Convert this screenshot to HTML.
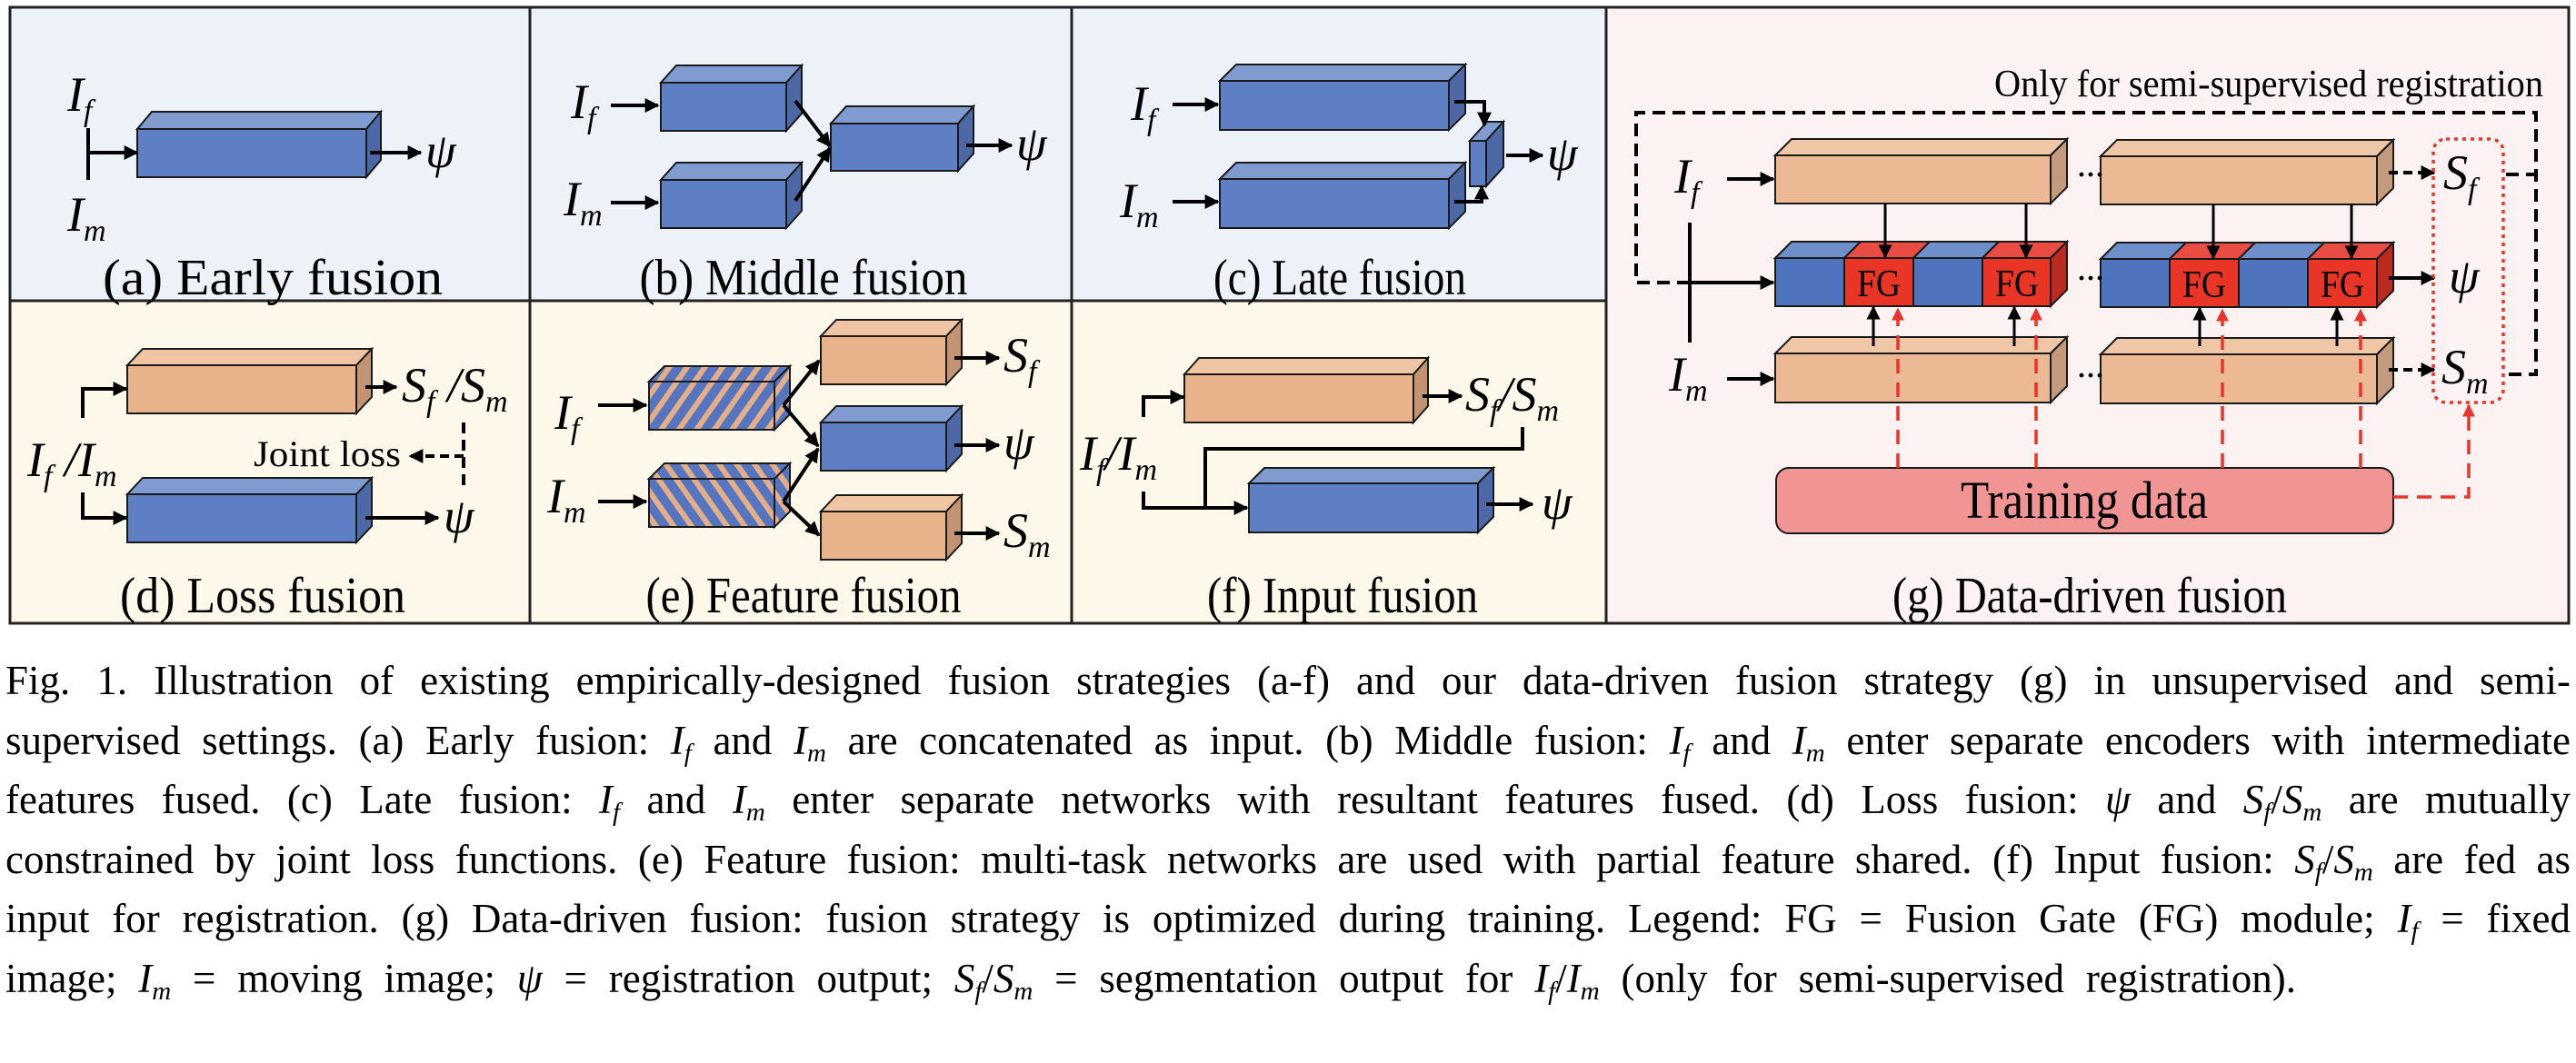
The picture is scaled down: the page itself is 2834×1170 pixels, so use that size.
<!DOCTYPE html>
<html><head><meta charset="utf-8">
<style>
html,body{margin:0;padding:0;background:#fff;}
body{width:2834px;height:1170px;position:relative;overflow:hidden;font-family:"Liberation Serif","DejaVu Serif","Noto Serif CJK SC",serif;}
svg{position:absolute;left:0;top:0;}
.cap{position:absolute;left:6px;width:2822px;font-size:45px;line-height:50px;text-align:justify;text-align-last:justify;white-space:nowrap;color:#000;}
.cap.last{width:2520px;}
.cap i{font-style:italic;}
.cap sub{font-size:29px;vertical-align:-8px;line-height:0;font-style:italic;}
</style></head><body>
<svg width="2834" height="700" viewBox="0 0 2834 700" xmlns="http://www.w3.org/2000/svg" font-family="'Liberation Serif', 'DejaVu Serif', serif">
<defs>
<marker id="ah" viewBox="0 0 10 10" refX="9" refY="5" markerWidth="4" markerHeight="4" orient="auto" markerUnits="strokeWidth"><path d="M0,0 L10,5 L0,10 z" fill="#000"/></marker>
<marker id="ahs" viewBox="0 0 10 10" refX="9" refY="5" markerWidth="5" markerHeight="5" orient="auto" markerUnits="strokeWidth"><path d="M0,0 L10,5 L0,10 z" fill="#000"/></marker>
<marker id="ahr" viewBox="0 0 10 10" refX="9" refY="5" markerWidth="4" markerHeight="4" orient="auto" markerUnits="strokeWidth"><path d="M0,0 L10,5 L0,10 z" fill="#e8342a"/></marker>
<pattern id="h1" width="16" height="16" patternUnits="userSpaceOnUse" patternTransform="rotate(35)"><rect width="16" height="16" fill="#5575c0"/><rect width="6" height="16" fill="#e6ae86"/></pattern>
<pattern id="h2" width="16" height="16" patternUnits="userSpaceOnUse" patternTransform="rotate(-35)"><rect width="16" height="16" fill="#5575c0"/><rect width="6" height="16" fill="#e6ae86"/></pattern>
</defs>
<rect x="11" y="8" width="572" height="323" fill="#edf2f9"/>
<rect x="583" y="8" width="596" height="323" fill="#edf2f9"/>
<rect x="1179" y="8" width="588" height="323" fill="#edf2f9"/>
<rect x="11" y="331" width="1756" height="355" fill="#fdf8ea"/>
<rect x="1767" y="8" width="1059" height="678" fill="#fcf2f1"/>
<g stroke="#222" stroke-width="3" fill="none">
<rect x="11" y="8" width="2815" height="678"/>
<line x1="11" y1="331" x2="1767" y2="331"/>
<line x1="583" y1="8" x2="583" y2="686"/>
<line x1="1179" y1="8" x2="1179" y2="686"/>
<line x1="1767" y1="8" x2="1767" y2="686"/>
</g>

<g stroke="#1a1a1a" stroke-width="2">
<rect x="151" y="142" width="252" height="53" fill="#5f7fc4"/>
<polygon points="151,142 167,123 419,123 403,142" fill="#7f9bd0"/>
<polygon points="403,142 419,123 419,176 403,195" fill="#4c68a6"/>
<rect x="727" y="91" width="138" height="53" fill="#5f7fc4"/>
<polygon points="727,91 744,72 882,72 865,91" fill="#7f9bd0"/>
<polygon points="865,91 882,72 882,125 865,144" fill="#4c68a6"/>
<rect x="727" y="198" width="138" height="53" fill="#5f7fc4"/>
<polygon points="727,198 744,179 882,179 865,198" fill="#7f9bd0"/>
<polygon points="865,198 882,179 882,232 865,251" fill="#4c68a6"/>
<rect x="914" y="136" width="140" height="52" fill="#5f7fc4"/>
<polygon points="914,136 931,117 1071,117 1054,136" fill="#7f9bd0"/>
<polygon points="1054,136 1071,117 1071,169 1054,188" fill="#4c68a6"/>
<rect x="1342" y="89" width="252" height="54" fill="#5f7fc4"/>
<polygon points="1342,89 1360,71 1612,71 1594,89" fill="#7f9bd0"/>
<polygon points="1594,89 1612,71 1612,125 1594,143" fill="#4c68a6"/>
<rect x="1342" y="197" width="252" height="54" fill="#5f7fc4"/>
<polygon points="1342,197 1360,179 1612,179 1594,197" fill="#7f9bd0"/>
<polygon points="1594,197 1612,179 1612,233 1594,251" fill="#4c68a6"/>
<rect x="1617" y="155" width="18" height="50" fill="#5f7fc4"/>
<polygon points="1617,155 1636,134 1654,134 1635,155" fill="#7f9bd0"/>
<polygon points="1635,155 1654,134 1654,184 1635,205" fill="#4c68a6"/>
<rect x="140" y="402" width="252" height="53" fill="#e8b38b"/>
<polygon points="140,402 157,384 409,384 392,402" fill="#efc5a3"/>
<polygon points="392,402 409,384 409,437 392,455" fill="#c29473"/>
<rect x="140" y="544" width="252" height="53" fill="#5f7fc4"/>
<polygon points="140,544 157,526 409,526 392,544" fill="#7f9bd0"/>
<polygon points="392,544 409,526 409,579 392,597" fill="#4c68a6"/>
<rect x="714" y="420" width="138" height="53" fill="url(#h1)"/>
<polygon points="714,420 731,403 869,403 852,420" fill="url(#h1)"/>
<polygon points="852,420 869,403 869,456 852,473" fill="url(#h1)"/>
<rect x="714" y="527" width="138" height="53" fill="url(#h2)"/>
<polygon points="714,527 731,510 869,510 852,527" fill="url(#h2)"/>
<polygon points="852,527 869,510 869,563 852,580" fill="url(#h2)"/>
<rect x="903" y="370" width="138" height="53" fill="#e8b38b"/>
<polygon points="903,370 920,352 1058,352 1041,370" fill="#efc5a3"/>
<polygon points="1041,370 1058,352 1058,405 1041,423" fill="#c29473"/>
<rect x="903" y="465" width="138" height="53" fill="#5f7fc4"/>
<polygon points="903,465 920,447 1058,447 1041,465" fill="#7f9bd0"/>
<polygon points="1041,465 1058,447 1058,500 1041,518" fill="#4c68a6"/>
<rect x="903" y="563" width="138" height="53" fill="#e8b38b"/>
<polygon points="903,563 920,545 1058,545 1041,563" fill="#efc5a3"/>
<polygon points="1041,563 1058,545 1058,598 1041,616" fill="#c29473"/>
<rect x="1303" y="412" width="252" height="53" fill="#e8b38b"/>
<polygon points="1303,412 1319,394 1571,394 1555,412" fill="#efc5a3"/>
<polygon points="1555,412 1571,394 1571,447 1555,465" fill="#c29473"/>
<rect x="1374" y="532" width="252" height="54" fill="#5f7fc4"/>
<polygon points="1374,532 1391,515 1643,515 1626,532" fill="#7f9bd0"/>
<polygon points="1626,532 1643,515 1643,569 1626,586" fill="#4c68a6"/>
<rect x="1953" y="171" width="303" height="53" fill="#ebba95"/>
<polygon points="1953,171 1971,153 2274,153 2256,171" fill="#efc6a6"/>
<polygon points="2256,171 2274,153 2274,206 2256,224" fill="#c39a7b"/>
<rect x="2311" y="172" width="304" height="53" fill="#ebba95"/>
<polygon points="2311,172 2329,154 2633,154 2615,172" fill="#efc6a6"/>
<polygon points="2615,172 2633,154 2633,207 2615,225" fill="#c39a7b"/>
<rect x="1953" y="389" width="303" height="54" fill="#ebba95"/>
<polygon points="1953,389 1971,371 2274,371 2256,389" fill="#efc6a6"/>
<polygon points="2256,389 2274,371 2274,425 2256,443" fill="#c39a7b"/>
<rect x="2311" y="390" width="304" height="54" fill="#ebba95"/>
<polygon points="2311,390 2329,372 2633,372 2615,390" fill="#efc6a6"/>
<polygon points="2615,390 2633,372 2633,426 2615,444" fill="#c39a7b"/>
<rect x="1953" y="284" width="76" height="53" fill="#5073bd"/>
<rect x="2029" y="284" width="76" height="53" fill="#e83526"/>
<rect x="2105" y="284" width="76" height="53" fill="#5073bd"/>
<rect x="2181" y="284" width="75" height="53" fill="#e83526"/>
<polygon points="1953,284 1971,266 2047,266 2029,284" fill="#6f8fcb"/>
<polygon points="2029,284 2047,266 2123,266 2105,284" fill="#e94c42"/>
<polygon points="2105,284 2123,266 2199,266 2181,284" fill="#6f8fcb"/>
<polygon points="2181,284 2199,266 2274,266 2256,284" fill="#e94c42"/>
<polygon points="2256,284 2274,266 2274,319 2256,337" fill="#bb2a1f"/>
<rect x="2311" y="285" width="76" height="53" fill="#5073bd"/>
<rect x="2387" y="285" width="76" height="53" fill="#e83526"/>
<rect x="2463" y="285" width="76" height="53" fill="#5073bd"/>
<rect x="2539" y="285" width="76" height="53" fill="#e83526"/>
<polygon points="2311,285 2329,267 2405,267 2387,285" fill="#6f8fcb"/>
<polygon points="2387,285 2405,267 2481,267 2463,285" fill="#e94c42"/>
<polygon points="2463,285 2481,267 2557,267 2539,285" fill="#6f8fcb"/>
<polygon points="2539,285 2557,267 2633,267 2615,285" fill="#e94c42"/>
<polygon points="2615,285 2633,267 2633,320 2615,338" fill="#bb2a1f"/>
<rect x="1954" y="515" width="679" height="72" rx="14" fill="#f09494"/>
</g>

<g stroke="#000" stroke-width="4" fill="none" marker-end="url(#ah)">
<line x1="97" y1="168" x2="151" y2="168"/>
<line x1="407" y1="168" x2="463" y2="168"/>
<line x1="672" y1="116" x2="724" y2="116"/>
<line x1="672" y1="223" x2="724" y2="223"/>
<line x1="875" y1="111" x2="913" y2="161"/>
<line x1="875" y1="221" x2="913" y2="163"/>
<line x1="1063" y1="160" x2="1113" y2="160"/>
<line x1="1290" y1="115" x2="1340" y2="115"/>
<line x1="1290" y1="222" x2="1340" y2="222"/>
<polyline points="1600,112 1633,112 1633,138"/>
<polyline points="1600,222 1630,222 1630,205"/>
<line x1="1657" y1="171" x2="1697" y2="171"/>
<polyline points="91,460 91,428 139,428"/>
<polyline points="91,542 91,570 139,570"/>
<line x1="402" y1="426" x2="436" y2="426"/>
<line x1="402" y1="570" x2="482" y2="570"/>
<line x1="510" y1="502" x2="451" y2="502" stroke-dasharray="10 6"/>
<line x1="658" y1="446" x2="711" y2="446"/>
<line x1="658" y1="552" x2="711" y2="552"/>
<line x1="862" y1="446" x2="901" y2="397"/>
<line x1="862" y1="446" x2="900" y2="491"/>
<line x1="862" y1="552" x2="900" y2="494"/>
<line x1="862" y1="552" x2="901" y2="589"/>
<line x1="1050" y1="394" x2="1099" y2="394"/>
<line x1="1050" y1="490" x2="1099" y2="490"/>
<line x1="1050" y1="587" x2="1099" y2="587"/>
<polyline points="1258,459 1258,437 1302,437"/>
<polyline points="1258,541 1258,559 1372,559"/>
<polyline points="1675,470 1675,494 1326,494 1326,559" marker-end="none"/>
<line x1="1565" y1="436" x2="1608" y2="436"/>
<line x1="1635" y1="555" x2="1686" y2="555"/>
<line x1="1900" y1="197" x2="1951" y2="197"/>
<line x1="1900" y1="417" x2="1951" y2="417"/>
<line x1="1859" y1="311" x2="1951" y2="311"/>
<line x1="2628" y1="306" x2="2678" y2="306"/>
<line x1="2628" y1="190" x2="2678" y2="190" stroke-dasharray="10 6"/>
<line x1="2628" y1="407" x2="2678" y2="407" stroke-dasharray="10 6"/>
</g>
<g stroke="#000" stroke-width="3" fill="none" marker-end="url(#ahs)">
<line x1="2074" y1="224" x2="2074" y2="283"/>
<line x1="2229" y1="224" x2="2229" y2="283"/>
<line x1="2435" y1="225" x2="2435" y2="284"/>
<line x1="2587" y1="225" x2="2587" y2="284"/>
<line x1="2061" y1="381" x2="2061" y2="338"/>
<line x1="2216" y1="381" x2="2216" y2="338"/>
<line x1="2420" y1="381" x2="2420" y2="339"/>
<line x1="2571" y1="381" x2="2571" y2="339"/>
</g>
<g stroke="#000" stroke-width="4" fill="none">
<line x1="97" y1="141" x2="97" y2="198"/>
<line x1="510" y1="465" x2="510" y2="540" stroke-dasharray="12 7"/>
<line x1="1859" y1="245" x2="1859" y2="377"/>
<polyline points="1859,311 1800,311 1800,124 2790,124 2790,412 2757,412" stroke-dasharray="14 8"/>
<line x1="2757" y1="192" x2="2790" y2="192" stroke-dasharray="14 8"/>
</g>
<g stroke="#e8342a" stroke-width="3.5" fill="none" marker-end="url(#ahr)" stroke-dasharray="16 10">
<line x1="2088" y1="515" x2="2088" y2="340"/>
<line x1="2240" y1="515" x2="2240" y2="340"/>
<line x1="2445" y1="515" x2="2445" y2="341"/>
<line x1="2597" y1="515" x2="2597" y2="341"/>
<polyline points="2633,547 2716,547 2716,446"/>
</g>
<rect x="2677" y="153" width="77" height="290" rx="14" fill="none" stroke="#e8342a" stroke-width="3.5" stroke-dasharray="4 5"/>
<g fill="#000" font-size="30" font-weight="bold"><text x="2285" y="202">···</text><text x="2285" y="316">···</text><text x="2285" y="423">···</text></g>

<g fill="#000" font-style="italic" font-size="54">
<text x="74" y="122">I<tspan font-size="34" dy="11">f</tspan></text>
<text x="74" y="254">I<tspan font-size="34" dy="11">m</tspan></text>
<text x="468" y="184">ψ</text>
<text x="628" y="130">I<tspan font-size="34" dy="11">f</tspan></text>
<text x="620" y="237">I<tspan font-size="34" dy="11">m</tspan></text>
<text x="1118" y="176">ψ</text>
<text x="1244" y="132">I<tspan font-size="34" dy="11">f</tspan></text>
<text x="1232" y="239">I<tspan font-size="34" dy="11">m</tspan></text>
<text x="1702" y="187">ψ</text>
<text x="442" y="442">S<tspan font-size="34" dy="11">f</tspan><tspan dy="-11"> /S</tspan><tspan font-size="34" dy="11">m</tspan></text>
<text x="30" y="524">I<tspan font-size="34" dy="11">f</tspan><tspan dy="-11"> /I</tspan><tspan font-size="34" dy="11">m</tspan></text>
<text x="488" y="586">ψ</text>
<text x="610" y="472">I<tspan font-size="34" dy="11">f</tspan></text>
<text x="602" y="564">I<tspan font-size="34" dy="11">m</tspan></text>
<text x="1104" y="409">S<tspan font-size="34" dy="11">f</tspan></text>
<text x="1104" y="505">ψ</text>
<text x="1104" y="602">S<tspan font-size="34" dy="11">m</tspan></text>
<text x="1612" y="452">S<tspan font-size="34" dy="11">f</tspan><tspan dy="-11">/S</tspan><tspan font-size="34" dy="11">m</tspan></text>
<text x="1188" y="517">I<tspan font-size="34" dy="11">f</tspan><tspan dy="-11">/I</tspan><tspan font-size="34" dy="11">m</tspan></text>
<text x="1696" y="571">ψ</text>
<text x="1842" y="212">I<tspan font-size="34" dy="11">f</tspan></text>
<text x="1836" y="430">I<tspan font-size="34" dy="11">m</tspan></text>
<text x="2688" y="208">S<tspan font-size="34" dy="11">f</tspan></text>
<text x="2694" y="322">ψ</text>
<text x="2686" y="422">S<tspan font-size="34" dy="11">m</tspan></text>
</g>
<g fill="#000" font-size="56" text-anchor="middle" lengthAdjust="spacingAndGlyphs">
<text x="300" y="324" textLength="374" lengthAdjust="spacingAndGlyphs">(a) Early fusion</text>
<text x="884" y="324" textLength="361" lengthAdjust="spacingAndGlyphs">(b) Middle fusion</text>
<text x="1474" y="324" textLength="278" lengthAdjust="spacingAndGlyphs">(c) Late fusion</text>
<text x="289" y="674" textLength="314" lengthAdjust="spacingAndGlyphs">(d) Loss fusion</text>
<text x="884" y="674" textLength="347" lengthAdjust="spacingAndGlyphs">(e) Feature fusion</text>
<text x="1477" y="674" textLength="298" lengthAdjust="spacingAndGlyphs">(f) Input fusion</text>
<text x="2299" y="674" textLength="434" lengthAdjust="spacingAndGlyphs">(g) Data-driven fusion</text>
<text x="2293" y="570" font-size="58" textLength="272" lengthAdjust="spacingAndGlyphs">Training data</text>
</g>
<text x="360" y="513" font-size="40" text-anchor="middle" textLength="162" lengthAdjust="spacingAndGlyphs">Joint loss</text>
<text x="2798" y="106" font-size="42" text-anchor="end" textLength="604" lengthAdjust="spacingAndGlyphs">Only for semi-supervised registration</text>
<g fill="#000" font-size="42" text-anchor="middle">
<text x="2067" y="326" textLength="48" lengthAdjust="spacingAndGlyphs">FG</text><text x="2219" y="326" textLength="48" lengthAdjust="spacingAndGlyphs">FG</text>
<text x="2425" y="327" textLength="48" lengthAdjust="spacingAndGlyphs">FG</text><text x="2577" y="327" textLength="48" lengthAdjust="spacingAndGlyphs">FG</text>
</g>
</svg>

<div class="cap" style="top:724px">Fig. 1. Illustration of existing empirically-designed fusion strategies (a-f) and our data-driven fusion strategy (g) in unsupervised and semi-</div>
<div class="cap" style="top:790px">supervised settings. (a) Early fusion: <i>I</i><sub>f</sub> and <i>I</i><sub>m</sub> are concatenated as input. (b) Middle fusion: <i>I</i><sub>f</sub> and <i>I</i><sub>m</sub> enter separate encoders with intermediate</div>
<div class="cap" style="top:855px">features fused. (c) Late fusion: <i>I</i><sub>f</sub> and <i>I</i><sub>m</sub> enter separate networks with resultant features fused. (d) Loss fusion: <i>ψ</i> and <i>S</i><sub>f</sub>/<i>S</i><sub>m</sub> are mutually</div>
<div class="cap" style="top:921px">constrained by joint loss functions. (e) Feature fusion: multi-task networks are used with partial feature shared. (f) Input fusion: <i>S</i><sub>f</sub>/<i>S</i><sub>m</sub> are fed as</div>
<div class="cap" style="top:986px">input for registration. (g) Data-driven fusion: fusion strategy is optimized during training. Legend: FG = Fusion Gate (FG) module; <i>I</i><sub>f</sub> = fixed</div>
<div class="cap last" style="top:1052px">image; <i>I</i><sub>m</sub> = moving image; <i>ψ</i> = registration output; <i>S</i><sub>f</sub>/<i>S</i><sub>m</sub> = segmentation output for <i>I</i><sub>f</sub>/<i>I</i><sub>m</sub> (only for semi-supervised registration).</div>
</body></html>
